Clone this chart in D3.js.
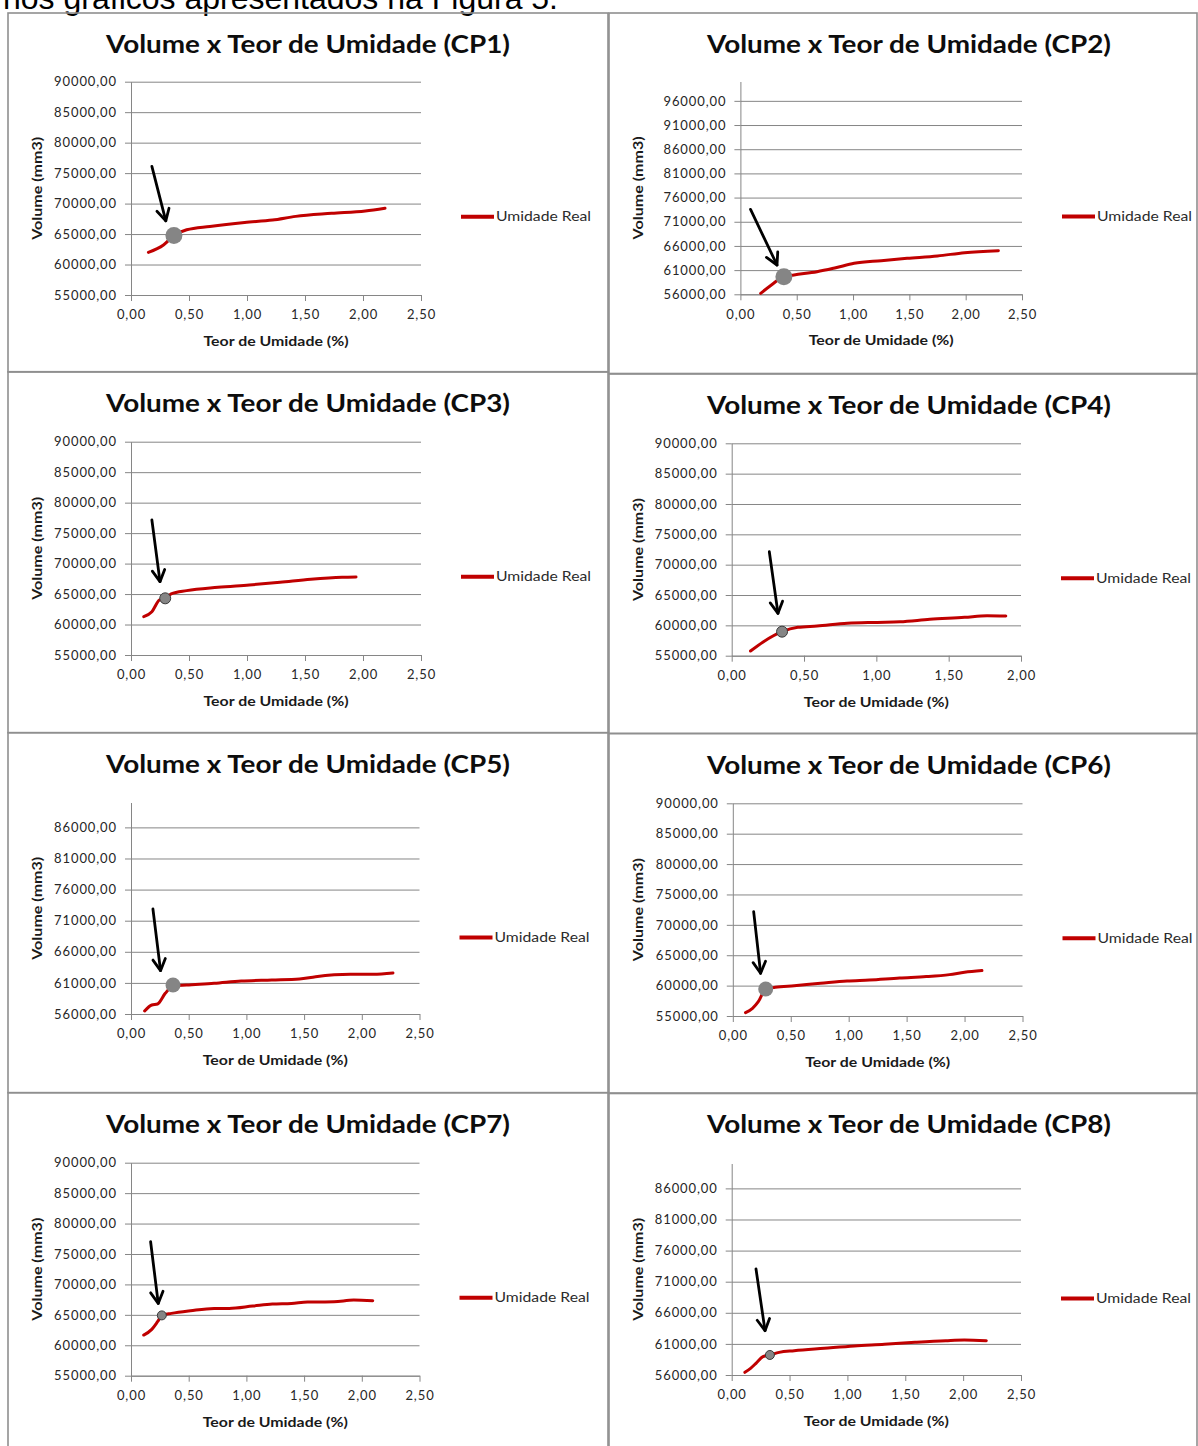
<!DOCTYPE html>
<html>
<head>
<meta charset="utf-8">
<script src="https://cdn.jsdelivr.net/npm/d3@7"></script>
<style>
    body { margin: 0; background: #fff; }
    svg { display: block; }
    .tick-label { font-family: Lato, 'Open Sans', sans-serif; font-size: 13px; fill: #262626; letter-spacing: 0.9px; }
    .axis-title { font-family: Lato, 'Open Sans', sans-serif; font-size: 13px; font-weight: bold; fill: #1a1a1a; }
    .chart-title { font-family: Lato, 'Open Sans', sans-serif; font-size: 25px; font-weight: bold; fill: #0d0d0d; }
    .legend-text { font-family: Lato, 'Open Sans', sans-serif; font-size: 13.5px; fill: #2b2b2b; }
</style>
</head>
<body>
<div id="chart"></div>
<script>
// ---- data ----
const panelNames = ['CP1', 'CP2', 'CP3', 'CP4', 'CP5', 'CP6', 'CP7', 'CP8'];
const seriesName = 'Umidade Real';
const introText = 'nos gráficos apresentados na Figura 5.';

const moistureCP1 = [0.15, 0.28, 0.37, 0.48, 0.68, 0.98, 1.22, 1.42, 1.73, 2.02, 2.19];
const volumeCP1   = [62000, 63200, 64750, 65700, 66250, 66900, 67300, 67900, 68400, 68800, 69250];

const moistureCP2 = [0.18, 0.275, 0.386, 0.476, 0.68, 0.846, 1.01, 1.25, 1.48, 1.75, 1.99, 2.29];
const volumeCP2   = [56200, 57930, 59650, 60000, 60680, 61500, 62400, 62960, 63440, 63920, 64610, 65020];

const moistureCP3 = [0.11, 0.18, 0.245, 0.295, 0.346, 0.48, 0.75, 1.02, 1.285, 1.55, 1.82, 1.94];
const volumeCP3   = [61290, 62110, 64030, 64300, 65010, 65560, 66100, 66490, 66930, 67420, 67750, 67800];

const moistureCP4 = [0.13, 0.22, 0.348, 0.457, 0.59, 0.80, 1.006, 1.163, 1.37, 1.61, 1.765, 1.895];
const volumeCP4   = [55770, 57310, 58960, 59670, 59890, 60330, 60490, 60600, 60990, 61320, 61590, 61540];

const moistureCP5 = [0.118, 0.18, 0.23, 0.297, 0.364, 0.48, 0.72, 0.955, 1.22, 1.46, 1.6, 1.9, 2.1, 2.27];
const volumeCP5   = [56480, 57450, 57610, 59320, 60500, 60660, 60930, 61300, 61470, 61630, 62000, 62380, 62380, 62590];

const moistureCP6 = [0.11, 0.17, 0.22, 0.284, 0.366, 0.53, 0.757, 0.986, 1.18, 1.44, 1.67, 1.87, 2.0, 2.15];
const volumeCP6   = [55550, 56260, 57360, 59450, 59720, 59990, 60380, 60760, 60930, 61260, 61480, 61810, 62190, 62470];

const moistureCP7 = [0.11, 0.18, 0.23, 0.267, 0.35, 0.516, 0.72, 0.85, 1.056, 1.225, 1.39, 1.53, 1.76, 1.93, 2.095];
const volumeCP7   = [61680, 62610, 63870, 64910, 65240, 65680, 66060, 66060, 66450, 66780, 66880, 67100, 67160, 67430, 67320];

const moistureCP8 = [0.114, 0.163, 0.21, 0.27, 0.33, 0.41, 0.54, 0.80, 1.06, 1.32, 1.585, 1.85, 2.01, 2.2];
const volumeCP8   = [56430, 57070, 57880, 58950, 59220, 59640, 59910, 60290, 60660, 60930, 61250, 61520, 61630, 61520];

const moisture = [moistureCP1, moistureCP2, moistureCP3, moistureCP4, moistureCP5, moistureCP6, moistureCP7, moistureCP8];
const volume   = [volumeCP1, volumeCP2, volumeCP3, volumeCP4, volumeCP5, volumeCP6, volumeCP7, volumeCP8];

// highlighted point (grey dot) and the hand-drawn arrow [x0, y0, x1, y1] in data units
const markers = [[0.37, 64750], [0.386, 59650], [0.295, 64300], [0.348, 58960],
                 [0.364, 60660], [0.284, 59450], [0.267, 64910], [0.33, 59220]];
const arrows = [[0.18, 76100, 0.30, 67170], [0.09, 73560, 0.325, 62060],
                [0.18, 77150, 0.25, 67040], [0.26, 72140, 0.32, 61980],
                [0.19, 72880, 0.256, 62970], [0.18, 72180, 0.24, 62030],
                [0.17, 77010, 0.236, 66880], [0.21, 73040, 0.288, 63130]];

const yTicksA = [55000, 60000, 65000, 70000, 75000, 80000, 85000, 90000];
const yTicksB = [56000, 61000, 66000, 71000, 76000, 81000, 86000, 91000, 96000];
const yTicksC = [56000, 61000, 66000, 71000, 76000, 81000, 86000];
const xTicksA = [0, 0.5, 1, 1.5, 2, 2.5];
const xTicksB = [0, 0.5, 1, 1.5, 2];

const yTicks   = [yTicksA, yTicksB, yTicksA, yTicksA, yTicksC, yTicksA, yTicksA, yTicksC];
const yDomains = [[55000, 90000], [56000, 100000], [55000, 90000], [55000, 90000],
                  [56000, 90000], [55000, 90000], [55000, 90000], [56000, 90000]];
const xTicks   = [xTicksA, xTicksA, xTicksA, xTicksB, xTicksA, xTicksA, xTicksA, xTicksA];
const xDomains = [[0, 2.5], [0, 2.5], [0, 2.5], [0, 2], [0, 2.5], [0, 2.5], [0, 2.5], [0, 2.5]];

// ---- layout (pixels) ----
const layout = [
    {ox: 8,   oy: 13,    w: 600, h: 359, left: 131,   right: 421,    top: 81.7,  bottom: 295,    r: 8.5},
    {ox: 609, oy: 13,    w: 588, h: 361, left: 740.4, right: 1022,   top: 81.5,  bottom: 294.3,  r: 8.5},
    {ox: 8,   oy: 371.7, w: 600, h: 361, left: 131,   right: 421,    top: 441.7, bottom: 655,    r: 5.5},
    {ox: 609, oy: 373.5, w: 588, h: 360, left: 731.7, right: 1021,   top: 443.3, bottom: 655.7,  r: 5.5},
    {ox: 8,   oy: 732.7, w: 600, h: 360, left: 131,   right: 419.5,  top: 802.5, bottom: 1014,   r: 7.5},
    {ox: 609, oy: 733.5, w: 588, h: 360, left: 732.8, right: 1022.5, top: 803.3, bottom: 1016,   r: 7.5},
    {ox: 8,   oy: 1092.7,w: 600, h: 400, left: 131,   right: 419.5,  top: 1162.7,bottom: 1375.7, r: 4.5},
    {ox: 609, oy: 1093,  w: 588, h: 400, left: 731.7, right: 1021,   top: 1163.5,bottom: 1375,   r: 4.5}
];

const width = 1198;
const height = 1446;
const gridColor = '#868686';
const lineColor = '#c00000';

const ptBR = d3.formatLocale({decimal: ',', thousands: '.', grouping: [3], currency: ['R$', '']});
const fmt2 = ptBR.format('.2f');

const svg = d3.select('#chart').append('svg')
    .attr('width', width)
    .attr('height', height);

svg.append('text')
    .attr('x', 3)
    .attr('y', 8.5)
    .style('font-family', "'Liberation Sans', Arial, sans-serif")
    .style('font-size', '32px')
    .attr('fill', '#000')
    .text(introText);

function drawPanel(i) {
    let box = layout[i];
    let g = svg.append('g');

    g.append('rect')
        .attr('x', box.ox)
        .attr('y', box.oy)
        .attr('width', box.w)
        .attr('height', box.h)
        .attr('fill', 'none')
        .attr('stroke', '#8f8f8f')
        .attr('stroke-width', 1.6);

    let xScale = d3.scaleLinear().domain(xDomains[i]).range([box.left, box.right]);
    let yScale = d3.scaleLinear().domain(yDomains[i]).range([box.bottom, box.top]);
    let plotW = box.right - box.left;

    // horizontal gridlines
    g.append('g')
        .attr('transform', `translate(${box.left},0)`)
        .call(d3.axisLeft(yScale).tickValues(yTicks[i]).tickSize(-plotW).tickFormat(''))
        .call((s) => s.select('.domain').remove())
        .call((s) => s.selectAll('line').attr('stroke', gridColor));

    // y axis with outward ticks and labels
    let yAxis = g.append('g')
        .attr('transform', `translate(${box.left},0)`)
        .call(d3.axisLeft(yScale).tickValues(yTicks[i]).tickSize(6).tickSizeOuter(0).tickPadding(8)
              .tickFormat(fmt2));
    yAxis.select('.domain').attr('stroke', gridColor);
    yAxis.selectAll('line').attr('stroke', gridColor);
    yAxis.selectAll('text').attr('class', 'tick-label').attr('fill', null);

    let xAxis = g.append('g')
        .attr('transform', `translate(0,${box.bottom})`)
        .call(d3.axisBottom(xScale).tickValues(xTicks[i]).tickSize(6).tickSizeOuter(0).tickPadding(9)
              .tickFormat(fmt2));
    xAxis.select('.domain').attr('stroke', gridColor);
    xAxis.selectAll('line').attr('stroke', gridColor);
    xAxis.selectAll('text').attr('class', 'tick-label').attr('fill', null);

    g.append('text')
        .attr('class', 'chart-title')
        .attr('x', box.ox + 300)
        .attr('y', box.oy + 40)
        .attr('text-anchor', 'middle')
        .attr('textLength', 404)
        .attr('lengthAdjust', 'spacingAndGlyphs')
        .text(`Volume x Teor de Umidade (${panelNames[i]})`);

    g.append('text')
        .attr('class', 'axis-title')
        .attr('x', (box.left + box.right) / 2)
        .attr('y', box.bottom + 51)
        .attr('text-anchor', 'middle')
        .attr('textLength', 145)
        .attr('lengthAdjust', 'spacingAndGlyphs')
        .text('Teor de Umidade  (%)');

    let yMid = (box.top + box.bottom) / 2;
    g.append('text')
        .attr('class', 'axis-title')
        .attr('transform', `translate(${box.ox + 34},${yMid}) rotate(-90)`)
        .attr('text-anchor', 'middle')
        .attr('textLength', 103)
        .attr('lengthAdjust', 'spacingAndGlyphs')
        .text('Volume (mm3)');

    // the measured curve
    let pts = moisture[i].map((d, k) => [d, volume[i][k]]);
    let line = d3.line()
        .x((d) => xScale(d[0]))
        .y((d) => yScale(d[1]))
        .curve(d3.curveMonotoneX);

    g.append('path')
        .datum(pts)
        .attr('d', line)
        .attr('fill', 'none')
        .attr('stroke', lineColor)
        .attr('stroke-width', 3)
        .attr('stroke-linecap', 'round')
        .attr('stroke-linejoin', 'round');

    // grey marker
    let m = markers[i];
    g.append('circle')
        .attr('cx', xScale(m[0]))
        .attr('cy', yScale(m[1]))
        .attr('r', box.r)
        .attr('fill', '#858585')
        .attr('stroke', box.r < 6 ? '#3a3a3a' : 'none')
        .attr('stroke-width', 1);

    // arrow pointing at the marker
    let a = arrows[i];
    let x0 = xScale(a[0]), y0 = yScale(a[1]);
    let x1 = xScale(a[2]), y1 = yScale(a[3]);
    let ang = Math.atan2(y1 - y0, x1 - x0);
    let headLen = 13;
    let spread = 0.5;
    let hx1 = x1 - headLen * Math.cos(ang - spread), hy1 = y1 - headLen * Math.sin(ang - spread);
    let hx2 = x1 - headLen * Math.cos(ang + spread), hy2 = y1 - headLen * Math.sin(ang + spread);

    g.append('line')
        .attr('x1', x0).attr('y1', y0)
        .attr('x2', x1).attr('y2', y1)
        .attr('stroke', '#000')
        .attr('stroke-width', 2.8)
        .attr('stroke-linecap', 'round');
    g.append('path')
        .attr('d', `M${hx1},${hy1}L${x1},${y1}L${hx2},${hy2}`)
        .attr('fill', 'none')
        .attr('stroke', '#000')
        .attr('stroke-width', 2.8)
        .attr('stroke-linecap', 'round')
        .attr('stroke-linejoin', 'round');

    // legend
    let legY = box.top + 135;
    g.append('line')
        .attr('x1', box.right + 40)
        .attr('x2', box.right + 73)
        .attr('y1', legY)
        .attr('y2', legY)
        .attr('stroke', lineColor)
        .attr('stroke-width', 4);
    g.append('text')
        .attr('class', 'legend-text')
        .attr('x', box.right + 75)
        .attr('y', legY)
        .attr('dy', '0.35em')
        .attr('textLength', 95)
        .attr('lengthAdjust', 'spacingAndGlyphs')
        .text(seriesName);
}

panelNames.forEach((_, i) => drawPanel(i));
</script>
</body>
</html>
